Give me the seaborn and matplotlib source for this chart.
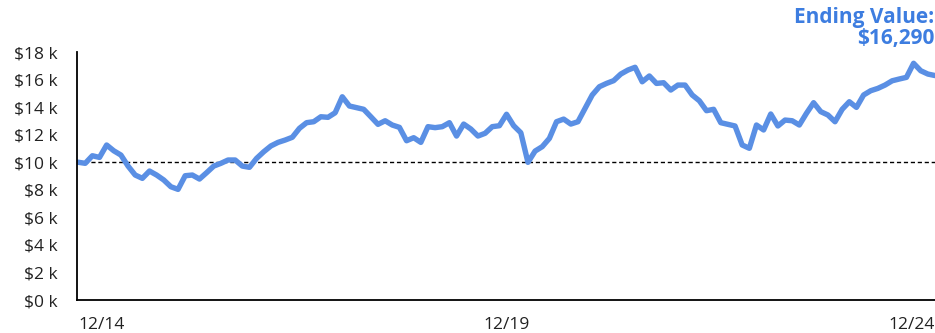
import matplotlib
matplotlib.use("Agg")
import matplotlib.pyplot as plt
import numpy as np
import pandas as pd
import seaborn as sns

# Growth of $10,000, monthly values in thousands of dollars (12/14 .. 12/24)
values_k = [
    10.00, 9.92, 10.47, 10.35, 11.25, 10.83, 10.52, 9.72, 9.07, 8.83, 9.36, 9.07,
    8.71, 8.22, 8.03, 9.02, 9.07, 8.78, 9.24, 9.72, 9.92, 10.16, 10.16, 9.72,
    9.63, 10.28, 10.76, 11.18, 11.44, 11.61, 11.81, 12.46, 12.87, 12.94, 13.30, 13.26,
    13.59, 14.75, 14.08, 13.96, 13.84, 13.30, 12.75, 13.01, 12.70, 12.53, 11.56, 11.78,
    11.44, 12.58, 12.51, 12.58, 12.87, 11.90, 12.77, 12.41, 11.90, 12.10, 12.58, 12.65,
    13.48, 12.65, 12.14, 9.99, 10.81, 11.13, 11.73, 12.94, 13.13, 12.77, 12.94, 13.91,
    14.88, 15.48, 15.72, 15.92, 16.40, 16.69, 16.89, 15.84, 16.26, 15.72, 15.77, 15.24,
    15.60, 15.60, 14.88, 14.46, 13.74, 13.84, 12.87, 12.75, 12.63, 11.25, 11.01, 12.70,
    12.34, 13.50, 12.63, 13.06, 13.01, 12.70, 13.55, 14.32, 13.67, 13.43, 12.94, 13.84,
    14.39, 13.98, 14.88, 15.19, 15.36, 15.60, 15.91, 16.04, 16.16, 17.18, 16.64, 16.40,
    16.29,
]
month_index = list(range(len(values_k)))
x_tick_pos = [0, 60, 120]
x_tick_labels = ["12/14", "12/19", "12/24"]
y_ticks = [0, 2, 4, 6, 8, 10, 12, 14, 16, 18]
y_tick_labels = [f"${v} k" for v in y_ticks]
baseline_k = 10
ending_value = 16290

df = pd.DataFrame({"month": month_index, "value": values_k})

sns.set_style("white")
plt.rcParams["font.family"] = ["Open Sans", "DejaVu Sans"]

fig = plt.figure(figsize=(9.35, 3.33), dpi=100)
ax = fig.add_axes([77 / 935, 33 / 333, 1 - 77 / 935, 248 / 333])

line_color = "#5a8fe4"
sns.lineplot(data=df, x="month", y="value", ax=ax, color=line_color,
             linewidth=3.9, solid_joinstyle="round", solid_capstyle="round")
ax.axhline(baseline_k, color="black", linewidth=1.0, linestyle=(0, (3, 2)), zorder=1)

ax.set_xlim(-0.15, 120)
ax.set_ylim(0, 18)
ax.set_xlabel("")
ax.set_ylabel("")

ax.set_yticks(y_ticks)
ax.set_yticklabels(y_tick_labels)
ax.set_xticks(x_tick_pos)
ax.set_xticklabels(x_tick_labels)
ax.tick_params(axis="y", length=0, pad=14, labelsize=12.5, colors="#222222")
ax.tick_params(axis="x", length=0, pad=12, labelsize=12.5, colors="#222222")
xt = ax.get_xticklabels()
xt[0].set_ha("left")
xt[0].set_x(-0.7)
xt[2].set_ha("right")

for side in ["top", "right"]:
    ax.spines[side].set_visible(False)
for side in ["left", "bottom"]:
    ax.spines[side].set_color("black")
    ax.spines[side].set_linewidth(1.3)

fig.text(0.999, 0.978, f"Ending Value:\n${ending_value:,}", ha="right", va="top",
         fontsize=15, fontweight="bold", color="#3d7de0", linespacing=1.0)

fig.savefig("out.png", dpi=100)
